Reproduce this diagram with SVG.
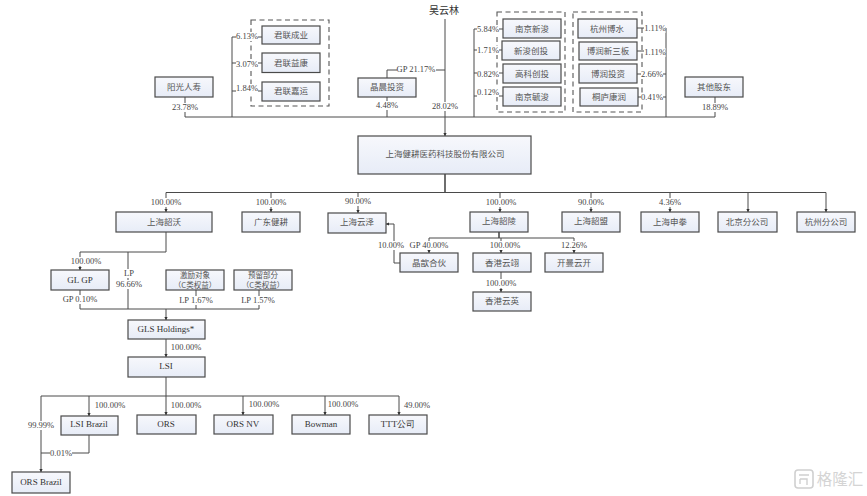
<svg xmlns="http://www.w3.org/2000/svg" width="867" height="496" viewBox="0 0 867 496">
<style>
.b{fill:url(#g);stroke:#4a4a4a;stroke-width:1.2}
.d{fill:none;stroke:#555;stroke-width:1.1;stroke-dasharray:5 3.5}
.l{fill:none;stroke:#4a4a4a;stroke-width:1}
.t{font:8.5px "Noto Sans CJK SC","Liberation Sans",sans-serif;fill:#555;text-anchor:middle}
.c{font:7.5px "Noto Sans CJK SC","Liberation Sans",sans-serif;fill:#555;text-anchor:middle}
.e{font:9px "Liberation Serif",serif;fill:#333;text-anchor:middle}
.p{font:8.5px "Liberation Serif","Noto Sans CJK SC",serif;fill:#444;text-anchor:middle}
</style>
<defs>
<linearGradient id="g" x1="0" y1="0" x2="0" y2="1"><stop offset="0" stop-color="#f7f8fc"/><stop offset="1" stop-color="#e7ecf7"/></linearGradient>
<marker id="a" markerWidth="4" markerHeight="4" refX="3" refY="2" orient="auto"><path d="M0 0.4L3.2 2L0 3.6Z" fill="#333"/></marker>
</defs>
<rect width="867" height="496" fill="#fff"/>
<g id="connectors" class="l">
<path class="l" d="M185 97V117H715V97M232 117V37H262M232 63H262M232 91H262M387 117V97M387 78V70H445M474 117V29H503M474 50H502M474 73H503M474 96H503M666 117V28H637M666 51H637M666 74H637M666 97H638"/>
<path class="l" marker-end="url(#a)" d="M445 19V136"/>
<path class="l" style="stroke-width:1.6" d="M445 174V192.500"/>
<path class="l" d="M166 192.500H826"/>
<path class="l" marker-end="url(#a)" d="M166 192.500V212"/>
<path class="l" marker-end="url(#a)" d="M271 192.500V212"/>
<path class="l" marker-end="url(#a)" d="M358 192.500V213"/>
<path class="l" marker-end="url(#a)" d="M500 192.500V212"/>
<path class="l" marker-end="url(#a)" d="M591 192.500V212"/>
<path class="l" marker-end="url(#a)" d="M670 192.500V212"/>
<path class="l" marker-end="url(#a)" d="M748 192.500V212"/>
<path class="l" marker-end="url(#a)" d="M826 192.500V212"/>
<path class="l" marker-end="url(#a)" d="M400 263H394V224H386"/>
<path class="l" style="stroke-width:1.6" d="M499 232V238"/>
<path class="l" d="M429 238H574"/>
<path class="l" marker-end="url(#a)" d="M429 238V253"/>
<path class="l" marker-end="url(#a)" d="M501 238V253"/>
<path class="l" marker-end="url(#a)" d="M574 238V253"/>
<path class="l" marker-end="url(#a)" d="M501 272V292"/>
<path class="l" d="M166 232V252H80M128 252V309"/>
<path class="l" marker-end="url(#a)" d="M80 252V270"/>
<path class="l" d="M80 290V309H259V290M196 290V309"/>
<path class="l" marker-end="url(#a)" d="M166 309V320"/>
<path class="l" marker-end="url(#a)" d="M166 339V357"/>
<path class="l" d="M41 396H399"/>
<path class="l" marker-end="url(#a)" d="M166 377V415"/>
<path class="l" marker-end="url(#a)" d="M41 396V472"/>
<path class="l" marker-end="url(#a)" d="M89 396V416"/>
<path class="l" marker-end="url(#a)" d="M243 396V415"/>
<path class="l" marker-end="url(#a)" d="M325 396V415"/>
<path class="l" marker-end="url(#a)" d="M399 396V415"/>
<path class="l" d="M89 435V453H41"/>
</g>
<rect class="d" x="251" y="20" width="78" height="86"/>
<rect class="d" x="497" y="12" width="68" height="100"/>
<rect class="d" x="573" y="12" width="69" height="100"/>
<g id="labels">
<path fill="#fff" d="M236 32h22v9h-22zM236 60h22v9h-22zM236 84h22v9h-22zM170 103h30v9h-30zM397 65h39v9h-39zM376 101h22v9h-22zM430 102h30v9h-30zM477 25h22v9h-22zM477 46h22v9h-22zM477 70h22v9h-22zM477 88h22v9h-22zM644 24h21.500v9h-21.500zM644 48h21.500v9h-21.500zM641 70h22v9h-22zM641 93h22v9h-22zM700 103h30v9h-30zM150 198h32v9h-32zM255 198h32v9h-32zM344 197h28v9h-28zM485 198h32v9h-32zM577 198h28v9h-28zM659 198h22v9h-22zM378 241h26v9h-26zM410 241h38v9h-38zM489 241h32v9h-32zM560 241h28v9h-28zM485 279h32v9h-32zM70 257h32v9h-32zM124 269h10v9h-10zM117 280h24v9h-24zM60 295h40v9h-40zM176 296h40v9h-40zM238 296h40v9h-40zM26 421h30v9h-30zM50 449h22v9h-22z"/>
<text class="p" x="247" y="39">6.13%</text>
<text class="p" x="247" y="67">3.07%</text>
<text class="p" x="247" y="91">1.84%</text>
<text class="p" x="185" y="110">23.78%</text>
<text class="p" x="416" y="72">GP 21.17%</text>
<text class="p" x="387" y="108">4.48%</text>
<text class="p" x="445" y="109">28.02%</text>
<text class="p" x="488" y="32">5.84%</text>
<text class="p" x="488" y="53">1.71%</text>
<text class="p" x="488" y="77">0.82%</text>
<text class="p" x="488" y="95">0.12%</text>
<text class="p" x="655" y="31">1.11%</text>
<text class="p" x="655" y="55">1.11%</text>
<text class="p" x="652" y="77">2.66%</text>
<text class="p" x="652" y="100">0.41%</text>
<text class="p" x="715" y="110">18.89%</text>
<text class="p" x="166" y="205">100.00%</text>
<text class="p" x="271" y="205">100.00%</text>
<text class="p" x="358" y="204">90.00%</text>
<text class="p" x="501" y="205">100.00%</text>
<text class="p" x="591" y="205">90.00%</text>
<text class="p" x="670" y="205">4.36%</text>
<text class="p" x="391" y="248">10.00%</text>
<text class="p" x="429" y="248">GP 40.00%</text>
<text class="p" x="505" y="248">100.00%</text>
<text class="p" x="574" y="248">12.26%</text>
<text class="p" x="501" y="286">100.00%</text>
<text class="p" x="86" y="264">100.00%</text>
<text class="p" x="129" y="276">LP</text>
<text class="p" x="129" y="287">96.66%</text>
<text class="p" x="80" y="302">GP 0.10%</text>
<text class="p" x="196" y="303">LP 1.67%</text>
<text class="p" x="258" y="303">LP 1.57%</text>
<text class="p" x="186" y="350">100.00%</text>
<text class="p" x="110" y="408">100.00%</text>
<text class="p" x="186" y="408">100.00%</text>
<text class="p" x="264" y="407">100.00%</text>
<text class="p" x="343" y="407">100.00%</text>
<text class="p" x="417" y="408">49.00%</text>
<text class="p" x="41" y="428">99.99%</text>
<text class="p" x="61" y="456">0.01%</text>
</g>
<g id="n0"><text x="444" y="14" style="font:10px 'Noto Sans CJK SC',sans-serif;fill:#333;text-anchor:middle">吴云林</text></g>
<g id="n1"><rect class="b" x="155" y="77" width="58" height="20"/><text class="t" x="184" y="90">阳光人寿</text></g>
<g id="n2"><rect class="b" x="262" y="26" width="58" height="18"/><text class="t" x="291" y="38">君联成业</text></g>
<g id="n3"><rect class="b" x="262" y="53" width="58" height="19.500"/><text class="t" x="291" y="66">君联益康</text></g>
<g id="n4"><rect class="b" x="262" y="82" width="58" height="19"/><text class="t" x="291" y="94">君联嘉运</text></g>
<g id="n5"><rect class="b" x="358" y="78" width="58" height="19"/><text class="t" x="387" y="90">晶晨投资</text></g>
<g id="n6"><rect class="b" x="503" y="19" width="58" height="19"/><text class="t" x="532" y="32">南京新浚</text></g>
<g id="n7"><rect class="b" x="502" y="41" width="58" height="19"/><text class="t" x="531" y="54">新浚创投</text></g>
<g id="n8"><rect class="b" x="503" y="64" width="58" height="19"/><text class="t" x="532" y="77">高科创投</text></g>
<g id="n9"><rect class="b" x="503" y="87" width="58" height="19"/><text class="t" x="532" y="100">南京毓浚</text></g>
<g id="n10"><rect class="b" x="578" y="19" width="59" height="19"/><text class="t" x="607" y="32">杭州博水</text></g>
<g id="n11"><rect class="b" x="579" y="42" width="58" height="18"/><text class="t" x="608" y="54">博润新三板</text></g>
<g id="n12"><rect class="b" x="579" y="64" width="58" height="19"/><text class="t" x="608" y="77">博润投资</text></g>
<g id="n13"><rect class="b" x="580" y="88" width="58" height="18"/><text class="t" x="609" y="100">桐庐康润</text></g>
<g id="n14"><rect class="b" x="685" y="77" width="58" height="20"/><text class="t" x="714" y="90">其他股东</text></g>
<g id="n15"><rect class="b" x="358" y="136" width="173" height="38"/><text class="t" x="445" y="157">上海健耕医药科技股份有限公司</text></g>
<g id="n16"><rect class="b" x="116" y="212" width="96" height="20"/><text class="t" x="164" y="225">上海韶沃</text></g>
<g id="n17"><rect class="b" x="242" y="212" width="58" height="20"/><text class="t" x="271" y="225">广东健耕</text></g>
<g id="n18"><rect class="b" x="328" y="213" width="58" height="20"/><text class="t" x="357" y="225">上海云泽</text></g>
<g id="n19"><rect class="b" x="470" y="212" width="58" height="20"/><text class="t" x="499" y="224">上海韶陵</text></g>
<g id="n20"><rect class="b" x="562" y="212" width="58" height="20"/><text class="t" x="591" y="224">上海韶盟</text></g>
<g id="n21"><rect class="b" x="641" y="212" width="58" height="20"/><text class="t" x="670" y="225">上海申拳</text></g>
<g id="n22"><rect class="b" x="718" y="212" width="59" height="20"/><text class="t" x="747" y="225">北京分公司</text></g>
<g id="n23"><rect class="b" x="797" y="212" width="58" height="20"/><text class="t" x="826" y="225">杭州分公司</text></g>
<g id="n24"><rect class="b" x="400" y="253" width="58" height="19"/><text class="t" x="429" y="266">晶歆合伙</text></g>
<g id="n25"><rect class="b" x="473" y="253" width="58" height="19"/><text class="t" x="502" y="266">香港云翊</text></g>
<g id="n26"><rect class="b" x="545" y="253" width="58" height="19"/><text class="t" x="574" y="266">开曼云开</text></g>
<g id="n27"><rect class="b" x="473" y="292" width="58" height="19"/><text class="t" x="502" y="304">香港云英</text></g>
<g id="n28"><rect class="b" x="51" y="270" width="58" height="20"/><text class="e" x="80" y="283">GL GP</text></g>
<g id="n29"><rect class="b" x="166" y="270" width="58" height="20"/><text class="c" x="195" y="278">激励对象</text><text class="c" x="195" y="288">（C类权益）</text></g>
<g id="n30"><rect class="b" x="234" y="270" width="58" height="20"/><text class="c" x="263" y="278">预留部分</text><text class="c" x="263" y="288">（C类权益）</text></g>
<g id="n31"><rect class="b" x="128" y="320" width="77" height="19"/><text class="e" x="166" y="332">GLS Holdings*</text></g>
<g id="n32"><rect class="b" x="128" y="357" width="77" height="20"/><text class="e" x="166" y="369">LSI</text></g>
<g id="n33"><rect class="b" x="61" y="416" width="57" height="19"/><text class="e" x="89" y="427">LSI Brazil</text></g>
<g id="n34"><rect class="b" x="137" y="415" width="59" height="19"/><text class="e" x="166" y="427">ORS</text></g>
<g id="n35"><rect class="b" x="214" y="415" width="59" height="19"/><text class="e" x="243" y="427">ORS NV</text></g>
<g id="n36"><rect class="b" x="292" y="415" width="58" height="19"/><text class="e" x="321" y="427">Bowman</text></g>
<g id="n37"><rect class="b" x="369" y="415" width="58" height="19"/><text class="e" x="398" y="427">TTT公司</text></g>
<g id="n38"><rect class="b" x="12" y="472" width="58" height="21"/><text class="e" x="41" y="485">ORS Brazil</text></g>
<g id="watermark"><rect x="795" y="470" width="18" height="18" rx="3" fill="none" stroke="#d0d0d0" stroke-width="1.6"/><path d="M799 475H809M800 479H807V485M800 479V484" fill="none" stroke="#d0d0d0" stroke-width="1.4"/><text x="840" y="485" style="font:15.500px 'Noto Sans CJK SC',sans-serif;fill:#d4d4d4;text-anchor:middle">格隆汇</text></g>
</svg>
